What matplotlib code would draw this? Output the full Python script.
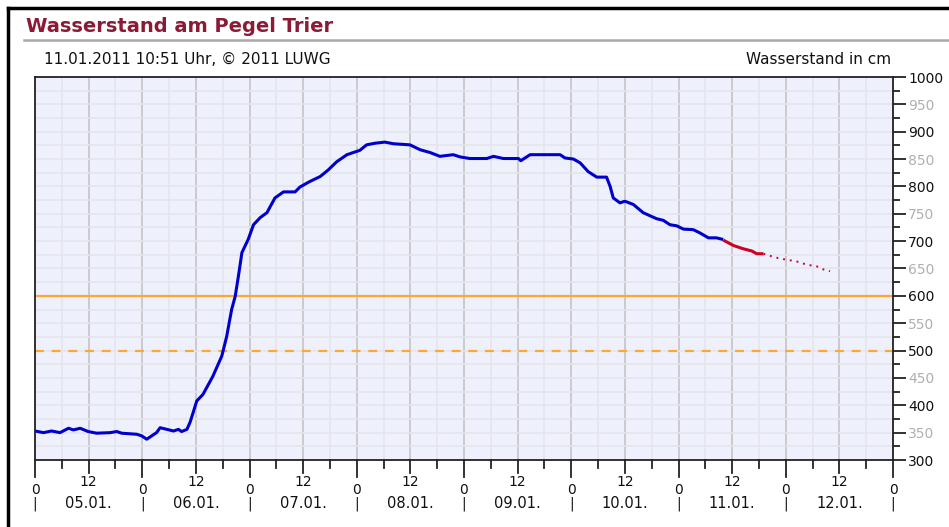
import numpy as np
import matplotlib.pyplot as plt
from matplotlib.transforms import blended_transform_factory

# ---- data (hours since 05.01. 0:00, water level in cm) ----
hours = [0, 1.9, 3.7, 5.6, 7.5, 8.6, 10.1, 11.9, 13.8, 16.8, 18.3, 19.4, 22.8,
         23.9, 25.0, 26.1, 27.2, 28.0, 29.5, 31.0, 32.1, 32.8, 34.0, 34.7,
         35.4, 36.2, 37.6, 39.8, 41.8, 42.9, 44.0, 44.8, 45.5, 46.3, 47.7,
         48.9, 50.4, 51.9, 53.7, 55.6, 58.2, 59.3, 61.5, 63.8, 65.6, 67.5,
         69.8, 72.7, 74.2, 76.1, 78.3, 80.2, 83.9, 86.2, 88.4, 90.6, 93.6,
         95.1, 97.3, 101.1, 102.6, 104.8, 108.2, 108.7, 110.8, 117.5, 118.6,
         120.5, 122.0, 123.8, 125.7, 127.9, 128.7, 129.4, 130.9, 132.0, 133.9,
         136.1, 138.0, 139.1, 140.6, 142.1, 143.6, 145.1, 147.3, 148.8, 150.7,
         152.5, 154.0]
level = [353, 350, 353, 350, 358, 355, 358, 352, 349, 350, 352, 349, 347,
         344, 338, 344, 350, 359, 356, 353, 356, 352, 356, 369,
         387, 408, 420, 453, 490, 526, 575, 599, 635, 679, 703,
         730, 743, 752, 779, 790, 790, 799, 809, 818, 830, 845,
         858, 866, 876, 879, 881, 878, 876, 867, 862, 855, 858,
         854, 851, 851, 855, 851, 851, 847, 858, 858, 852,
         850, 843, 827, 817, 817, 800, 779, 770, 773, 767,
         752, 745, 741, 738, 730, 728, 722, 721, 715, 706,
         706, 703]

# latest values (red)
hours_new = [154.0, 156.3, 158.5, 160.4, 161.5, 163.0]
level_new = [702, 692, 686, 682, 677, 677]

# forecast (dotted)
hours_fc = [163.0, 164.1, 166.3, 168.2, 170.4, 172.7, 174.9, 176.8, 177.9]
level_fc = [677, 674, 669, 666, 663, 657, 654, 647, 645]

warn_solid = 600
warn_dashed = 500
day_labels = ["05.01.", "06.01.", "07.01.", "08.01.",
              "09.01.", "10.01.", "11.01.", "12.01."]

W, H = 949, 527
fig = plt.figure(figsize=(W / 100, H / 100), dpi=100)
fig.patch.set_facecolor('white')

x0, x1, y0, y1 = 35, 893, 77, 460
ax = fig.add_axes([x0 / W, 1 - y1 / H, (x1 - x0) / W, (y1 - y0) / H])
ax.set_facecolor('#eef0fc')
ax.set_xlim(0, 24 * len(day_labels))
ax.set_ylim(300, 1000)

# grid
ax.set_xticks(np.arange(0, 24 * len(day_labels) + 1, 12))
ax.set_xticks(np.arange(6, 24 * len(day_labels), 12), minor=True)
ax.set_yticks(np.arange(300, 1001, 50))
ax.set_yticks(np.arange(325, 1000, 50), minor=True)
ax.grid(which='major', axis='x', color='#c8c8c8', lw=1.3)
ax.grid(which='minor', axis='x', color='#e4e4ec', lw=1.2)
ax.grid(which='both', axis='y', color='#e4e4ec', lw=1.2)
ax.set_axisbelow(True)

ax.tick_params(axis='x', which='both', length=0, labelbottom=False)
ax.yaxis.tick_right()
ax.tick_params(axis='y', which='major', length=9, width=1.3, color='#222222',
               pad=2, labelsize=10)
ax.tick_params(axis='y', which='minor', length=5, width=1.3, color='#222222')
for lab, v in zip(ax.get_yticklabels(), np.arange(300, 1001, 50)):
    lab.set_color('#111111' if v % 100 == 0 else '#b0b0b0')
for s in ax.spines.values():
    s.set_color('#222222')
    s.set_linewidth(1.3)

# warning levels
ax.axhline(warn_solid, color='#ffa733', lw=1.6)
ax.axhline(warn_dashed, color='#ffa733', lw=1.6, ls=(0, (4, 3.5)))

# series
ax.plot(hours, level, color='#0000cc', lw=2.2, solid_capstyle='butt')
ax.plot(hours_new, level_new, color='#cc0022', lw=2.2, solid_capstyle='butt')
ax.plot(hours_fc, level_fc, color='#cc0033', lw=1.4, ls=(0, (1, 2.5)))

# x axis ticks and labels
tr = blended_transform_factory(ax.transData, fig.transFigure)
py = lambda p: 1 - p / H
for h in range(0, 24 * len(day_labels) + 1, 6):
    if h % 24 == 0:
        y_end = 477
    elif h % 12 == 0:
        y_end = 473
    else:
        y_end = 468
    ax.plot([h, h], [py(y1), py(y_end)], color='#222222', lw=1.3,
            transform=tr, clip_on=False)
for d in range(len(day_labels) + 1):
    ax.text(24 * d, py(490), "0", transform=tr, ha='center', va='center',
            fontsize=10, color='#111111')
    ax.text(24 * d, py(504), "|", transform=tr, ha='center', va='center',
            fontsize=10, color='#111111')
for d, lab in enumerate(day_labels):
    ax.text(24 * d + 12, py(482), "12", transform=tr, ha='center',
            va='center', fontsize=10, color='#111111')
    ax.text(24 * d + 12, py(504), lab, transform=tr, ha='center',
            va='center', fontsize=10.5, color='#111111')

# header
fig.text(26 / W, py(27), "Wasserstand am Pegel Trier", fontsize=14,
         fontweight='bold', color='#8c1a36', va='center', ha='left')
fig.add_artist(plt.Line2D([24 / W, 1], [py(40), py(40)], color='#a8a8a8',
                          lw=1.8))
fig.text(44 / W, py(60), "11.01.2011 10:51 Uhr, \u00a9 2011 LUWG",
         fontsize=11, color='#111111', va='center', ha='left')
fig.text(891 / W, py(60), "Wasserstand in cm", fontsize=11,
         color='#111111', va='center', ha='right')

# outer frame (left and top)
fig.add_artist(plt.Line2D([8 / W, 8 / W], [0, py(8)], color='black', lw=2.5))
fig.add_artist(plt.Line2D([8 / W, 1], [py(8), py(8)], color='black', lw=2.5))

fig.savefig('out.png', dpi=100)
